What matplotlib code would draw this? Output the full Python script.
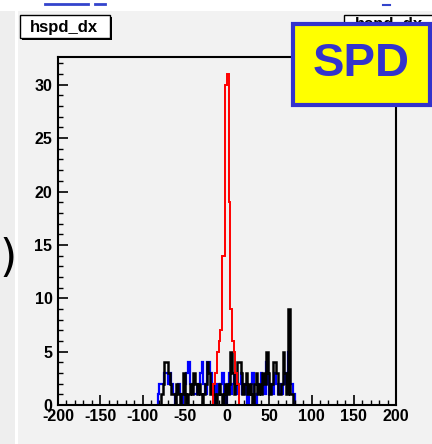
import matplotlib
matplotlib.use("Agg")
import matplotlib.pyplot as plt
from matplotlib.patches import Rectangle
from matplotlib.ticker import MultipleLocator

plt.rcParams["axes.unicode_minus"] = False

# ---------------- data ----------------
bin_width = 2.0
red_start = -16.0
red_counts = [2, 3, 5, 6, 7, 14, 14, 30, 31, 19, 9, 6, 5, 3, 2]

wide_start = -82.0
blue_counts = [1, 2, 2, 2, 3, 3, 2, 3, 2, 1, 0, 1, 2, 1, 0, 1, 2, 3, 4, 2,
               2, 1, 1, 2, 1, 3, 4, 2, 1, 4, 4, 3, 1, 2, 0, 2, 1, 2, 3, 1,
               0, 2, 3, 1, 2, 3, 2, 1, 2, 3, 1, 2, 1, 0, 1, 2, 3, 1, 0, 1,
               2, 3, 2, 1, 4, 2, 1, 2, 1, 3, 2, 1, 2, 1, 2, 3, 2, 5, 2, 2,
               1, 0]
black_counts = [0, 0, 1, 2, 4, 4, 3, 2, 1, 1, 0, 2, 1, 0, 1, 3, 1, 0, 1, 2,
                1, 3, 2, 1, 2, 1, 0, 1, 2, 4, 3, 1, 2, 1, 0, 1, 2, 1, 0, 1,
                2, 1, 2, 5, 3, 1, 2, 4, 4, 3, 1, 2, 3, 1, 2, 1, 0, 2, 3, 1,
                2, 1, 3, 2, 5, 3, 1, 2, 4, 4, 3, 1, 1, 2, 5, 3, 1, 9, 1, 1,
                0, 0]

x_range = (-200, 200)
y_range = (0, 32.6)
x_major = [-200, -150, -100, -50, 0, 50, 100, 150, 200]
y_major = [0, 5, 10, 15, 20, 25, 30]
title_text = "hspd_dx"
badge_text = "SPD"

# ---------------- figure ----------------
W, H = 432, 444
fig = plt.figure(figsize=(W / 100, H / 100), dpi=100)
fig.patch.set_facecolor("white")
FONT = "Liberation Sans"

def frac(x0, y0, x1, y1):
    return [x0 / W, 1 - y1 / H, (x1 - x0) / W, (y1 - y0) / H]

# background layer
bg = fig.add_axes([0, 0, 1, 1], zorder=0)
bg.set_xlim(0, W); bg.set_ylim(H, 0); bg.axis("off")
bg.add_patch(Rectangle((0, 11), 15, H - 11, facecolor="#eeeeee", edgecolor="none"))
bg.add_patch(Rectangle((18, 11), W - 18, H - 11, facecolor="#f2f2f2", edgecolor="none"))
bg.plot([45, 88], [4.5, 4.5], color="#3344cc", lw=2)
bg.plot([95, 105], [4.5, 4.5], color="#3344cc", lw=2)
bg.plot([383, 390], [5, 5], color="#3344cc", lw=1.5)
bg.text(8, 258, ")", fontsize=32, family="DejaVu Sans", ha="center", va="center", color="black")

# main axes
ax = fig.add_axes(frac(58, 57, 396, 405), zorder=1)
ax.set_facecolor("#f2f2f2")

def edges(start, n):
    return [start + bin_width * i for i in range(n + 1)]

ax.stairs(blue_counts, edges(wide_start, len(blue_counts)), color="#0000ff", lw=1.6)
ax.stairs(black_counts, edges(wide_start, len(black_counts)), color="black", lw=1.8)
ax.stairs(red_counts, edges(red_start, len(red_counts)), color="#ff0000", lw=1.4)

ax.set_xlim(*x_range)
ax.set_ylim(*y_range)
ax.set_xticks(x_major)
ax.set_yticks(y_major)
ax.xaxis.set_minor_locator(MultipleLocator(10))
ax.yaxis.set_minor_locator(MultipleLocator(1))
ax.tick_params(which="major", direction="in", length=7, width=1.2, color="black")
ax.tick_params(which="minor", direction="in", length=3.5, width=1.0, color="black")
ax.tick_params(axis="x", pad=3)
ax.tick_params(axis="y", pad=4)
for lab in ax.get_xticklabels() + ax.get_yticklabels():
    lab.set_fontfamily(FONT)
    lab.set_fontweight("bold")
    lab.set_fontsize(11.5)
for s in ax.spines.values():
    s.set_linewidth(1.5)
    s.set_color("black")

# overlay layer
ov = fig.add_axes([0, 0, 1, 1], zorder=3)
ov.set_xlim(0, W); ov.set_ylim(H, 0); ov.axis("off")
ov.patch.set_alpha(0)

# title box with shadow
ov.add_patch(Rectangle((22, 17.5), 90, 23, facecolor="black", edgecolor="none", zorder=1))
ov.add_patch(Rectangle((20, 15.5), 90, 23, facecolor="white", edgecolor="black", lw=1.0, zorder=1))
ov.text(64, 27.5, title_text, fontsize=12, family=FONT, fontweight="bold",
        ha="center", va="center", color="black", zorder=2)

# stats box (mostly hidden behind the badge)
ov.add_patch(Rectangle((344, 15), 92, 50, facecolor="white", edgecolor="black", lw=1.0, zorder=1))
ov.text(389, 25, title_text, fontsize=12, family=FONT, fontweight="bold",
        ha="center", va="center", color="black", zorder=2)

# SPD badge
ov.add_patch(Rectangle((293, 24), 137, 81, facecolor="#ffff00", edgecolor="#3333cc", lw=3, zorder=4))
ov.text(361, 64, badge_text, fontsize=34, family=FONT, fontweight="bold",
        ha="center", va="center", color="#3333cc", zorder=5)

fig.savefig("out.png", dpi=100, facecolor=fig.get_facecolor())
